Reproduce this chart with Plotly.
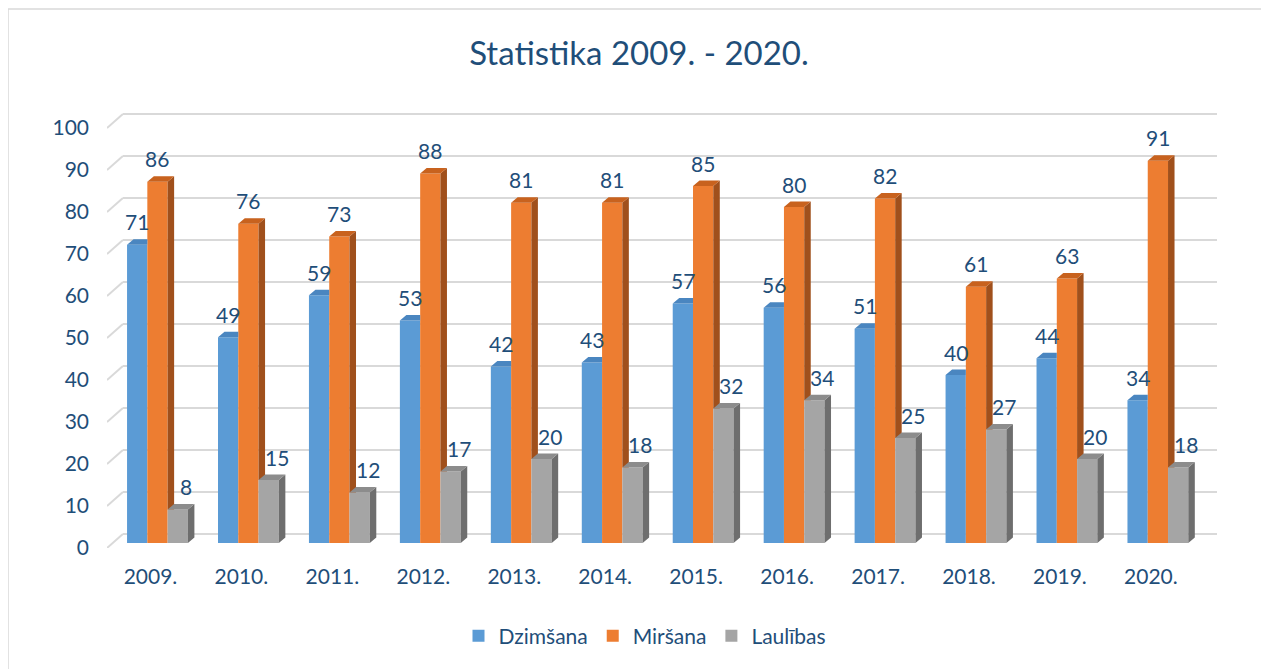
import plotly.graph_objects as go

# dati nolasīti no attēla
years = ["2009.", "2010.", "2011.", "2012.", "2013.", "2014.",
         "2015.", "2016.", "2017.", "2018.", "2019.", "2020."]
dzimsana = [71, 49, 59, 53, 42, 43, 57, 56, 51, 40, 44, 34]
mirsana = [86, 76, 73, 88, 81, 81, 85, 80, 82, 61, 63, 91]
laulibas = [8, 15, 12, 17, 20, 18, 32, 34, 25, 27, 20, 18]

TXT = "#1f4e79"
FONT = "Lato"
GRID = "#d9d9d9"

OFF = 8   # lapas body atkāpe
W, H = 1269 - OFF, 669 - OFF
L, T = 107 - OFF, 113 - OFF
R = 1269 - 1217
B = H - (548 - OFF)
XR = [-0.555, 11.65]
YR = [-1.19, 102.38]

bw = 0.223          # viena stabiņa platums (x vienībās)
dx, dy = 0.0715, 1.31   # "3D" dziļums
series = [
    ("Dzimšana", dzimsana, "#5b9bd5", "#41719c", "#4a86c0"),
    ("Miršana", mirsana, "#ed7d31", "#a0501c", "#c8621e"),
    ("Laulības", laulibas, "#a5a5a5", "#6e6e6e", "#8c8c8c"),
]
xs = list(range(len(years)))

fig = go.Figure()

# priekšējās skaldnes - parasti stabiņi
for k, (name, vals, front, side, top) in enumerate(series):
    fig.add_trace(go.Bar(
        x=xs, y=vals, width=bw, offset=(k - 1.5) * bw,
        marker=dict(color=front, line_width=0), name=name,
        hoverinfo="y+name",
    ))


def poly_trace(xy_list, color):
    px, py = [], []
    for pts in xy_list:
        for a, b in pts:
            px.append(a)
            py.append(b)
        px.append(pts[0][0])
        py.append(pts[0][1])
        px.append(None)
        py.append(None)
    return go.Scatter(x=px, y=py, mode="lines", fill="toself", fillcolor=color,
                      line=dict(width=0, color=color), showlegend=False,
                      hoverinfo="skip")


# sānu un augšējās skaldnes
for k, (name, vals, front, side, top) in enumerate(series):
    sides, tops = [], []
    for i, v in enumerate(vals):
        xl = i + (k - 1.5) * bw
        xr = xl + bw
        if k < 2:
            nxt = series[k + 1][1][i]
            if v > nxt:
                lo = nxt
                sides.append([(xr, lo), (xr, v), (xr + dx, v + dy), (xr + dx, max(lo, dy))])
            if v >= nxt:
                tops.append([(xl, v), (xl + dx, v + dy), (xr + dx, v + dy), (xr, v)])
            else:
                tops.append([(xl, v), (xl + dx, v + dy), (xr, v + dy), (xr, v)])
        else:
            sides.append([(xr, 0), (xr, v), (xr + dx, v + dy), (xr + dx, dy)])
            tops.append([(xl, v), (xl + dx, v + dy), (xr + dx, v + dy), (xr, v)])
    if sides:
        fig.add_trace(poly_trace(sides, side))
    fig.add_trace(poly_trace(tops, top))

# režģa līnijas ar perspektīvu
shapes = []
for v in range(0, 101, 10):
    shapes.append(dict(type="line", xref="x", yref="y", layer="below",
                       x0=-0.38, y0=v + 2.14, x1=XR[1], y1=v + 2.14,
                       line=dict(color=GRID, width=2)))
    shapes.append(dict(type="line", xref="x", yref="y", layer="below",
                       x0=XR[0], y0=v - 1.19, x1=-0.38, y1=v + 2.14,
                       line=dict(color=GRID, width=2)))

# rāmis ap diagrammu
pw, ph = W - L - R, H - T - B


def px_x(p):
    return (p - OFF - L) / pw


def px_y(p):
    return (H - B - (p - OFF)) / ph


shapes.append(dict(type="rect", xref="paper", yref="paper", layer="below",
                   x0=px_x(8), x1=px_x(1290), y0=px_y(690), y1=px_y(9),
                   line=dict(color=GRID, width=1.5), fillcolor="rgba(0,0,0,0)"))

# datu etiķetes
annotations = []
for k, (name, vals, *_c) in enumerate(series):
    for i, v in enumerate(vals):
        annotations.append(dict(
            x=i + (k - 1) * bw, y=v, text=str(v), showarrow=False,
            yanchor="middle", yshift=23, xshift=8 if k == 2 else 0,
            font=dict(family=FONT, size=21, color=TXT),
        ))

fig.update_layout(
    width=W, height=H,
    margin=dict(l=L, r=R, t=T, b=B),
    paper_bgcolor="white", plot_bgcolor="white",
    barmode="overlay",
    font=dict(family=FONT, color=TXT, size=21),
    title=dict(text="Statistika 2009. - 2020.", x=px_x(639), xref="paper",
               xanchor="center", y=1 - (53 - OFF) / H, yanchor="middle",
               font=dict(family=FONT, size=33, color=TXT)),
    xaxis=dict(range=XR, tickmode="array", tickvals=xs, ticktext=years,
               showgrid=False, zeroline=False, showline=False, ticks="",
               ticklabelstandoff=14, ticklabelshift=-7,
               tickfont=dict(family=FONT, size=21, color=TXT)),
    yaxis=dict(range=YR, tickmode="array", tickvals=list(range(0, 101, 10)),
               showgrid=False, zeroline=False, showline=False, ticks="",
               ticklabelstandoff=17, ticklabelshift=5,
               tickfont=dict(family=FONT, size=21, color=TXT)),
    legend=dict(orientation="h", x=px_x(645), xanchor="center",
                y=px_y(636), yanchor="middle",
                font=dict(family=FONT, size=21, color=TXT),
                itemwidth=30, tracegroupgap=0),
    shapes=shapes,
    annotations=annotations,
    showlegend=True,
)

fig.write_html("out.html")
